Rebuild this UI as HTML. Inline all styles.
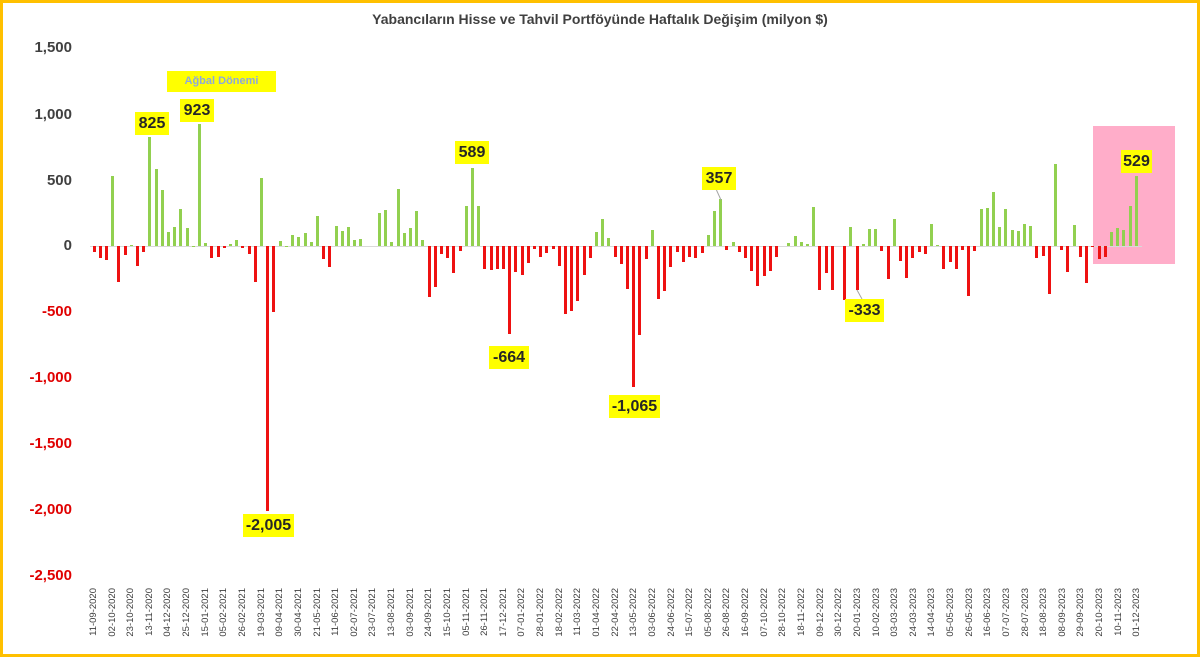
<!DOCTYPE html>
<html><head><meta charset="utf-8"><style>
body{margin:0;width:1200px;height:657px;overflow:hidden;background:#fff;font-family:"Liberation Sans",sans-serif}
#f{position:absolute;left:0;top:0;width:1194px;height:651px;border:3px solid #FFC000}
.t{position:absolute;top:11px;left:0;width:1200px;text-align:center;font-weight:bold;font-size:14px;color:#404040}
.yl{position:absolute;left:0;width:72px;text-align:right;font-weight:bold;font-size:15px;color:#404040}
.yl.r{color:#e00000}
#bars{position:absolute;left:91px;top:0;height:657px;display:flex}
#bars>i{display:block;position:relative;width:6.21px;height:657px;flex:none}
#bars>i>b{position:absolute;left:1.6px;width:3px;height:calc(var(--v)*0.132px)}
b.p{bottom:411px;background:#92D050}
b.n{top:246px;background:#EE1111}
.z{position:absolute;left:90px;top:246px;width:1052px;height:1px;background:#d9d9d9}
.pink{position:absolute;left:1093px;top:126px;width:82px;height:138px;background:#FFADC9}
.a{position:absolute;background:#FFFF00;font-weight:bold;font-size:16px;color:#262626;text-align:center;line-height:23px;height:23px}
.xl{position:absolute;top:588px;font-size:9.5px;color:#404040;writing-mode:vertical-rl;transform:rotate(180deg);width:12px;text-align:left}
</style></head><body>
<div id="f"></div>
<div class="pink"></div>
<div class="t">Yabancıların Hisse ve Tahvil Portföyünde Haftalık Değişim (milyon $)</div>
<div class="yl" style="top:39px">1,500</div>
<div class="yl" style="top:106px">1,000</div>
<div class="yl" style="top:172px">500</div>
<div class="yl" style="top:237px">0</div>
<div class="yl r" style="top:303px">-500</div>
<div class="yl r" style="top:369px">-1,000</div>
<div class="yl r" style="top:435px">-1,500</div>
<div class="yl r" style="top:501px">-2,000</div>
<div class="yl r" style="top:567px">-2,500</div>
<div class="z"></div>
<div id="bars">
<i><b class="n" style="--v:43"></b></i><i><b class="n" style="--v:93"></b></i><i><b class="n" style="--v:106"></b></i><i><b class="p" style="--v:530"></b></i><i><b class="n" style="--v:270"></b></i><i><b class="n" style="--v:68"></b></i><i><b class="p" style="--v:5"></b></i><i><b class="n" style="--v:150"></b></i><i><b class="n" style="--v:43"></b></i><i><b class="p" style="--v:825"></b></i>
<i><b class="p" style="--v:585"></b></i><i><b class="p" style="--v:425"></b></i><i><b class="p" style="--v:104"></b></i><i><b class="p" style="--v:141"></b></i><i><b class="p" style="--v:280"></b></i><i><b class="p" style="--v:134"></b></i><i><b class="p" style="--v:3"></b></i><i><b class="p" style="--v:923"></b></i><i><b class="p" style="--v:20"></b></i><i><b class="n" style="--v:93"></b></i>
<i><b class="n" style="--v:80"></b></i><i><b class="n" style="--v:18"></b></i><i><b class="p" style="--v:15"></b></i><i><b class="p" style="--v:43"></b></i><i><b class="n" style="--v:13"></b></i><i><b class="n" style="--v:63"></b></i><i><b class="n" style="--v:270"></b></i><i><b class="p" style="--v:515"></b></i><i><b class="n" style="--v:2005"></b></i><i><b class="n" style="--v:497"></b></i>
<i><b class="p" style="--v:38"></b></i><i><b class="p" style="--v:3"></b></i><i><b class="p" style="--v:81"></b></i><i><b class="p" style="--v:68"></b></i><i><b class="p" style="--v:96"></b></i><i><b class="p" style="--v:30"></b></i><i><b class="p" style="--v:230"></b></i><i><b class="n" style="--v:98"></b></i><i><b class="n" style="--v:156"></b></i><i><b class="p" style="--v:151"></b></i>
<i><b class="p" style="--v:114"></b></i><i><b class="p" style="--v:144"></b></i><i><b class="p" style="--v:45"></b></i><i><b class="p" style="--v:56"></b></i><i><b class="p" style="--v:0"></b></i><i><b class="p" style="--v:0"></b></i><i><b class="p" style="--v:253"></b></i><i><b class="p" style="--v:270"></b></i><i><b class="p" style="--v:28"></b></i><i><b class="p" style="--v:429"></b></i>
<i><b class="p" style="--v:98"></b></i><i><b class="p" style="--v:134"></b></i><i><b class="p" style="--v:265"></b></i><i><b class="p" style="--v:45"></b></i><i><b class="n" style="--v:384"></b></i><i><b class="n" style="--v:310"></b></i><i><b class="n" style="--v:63"></b></i><i><b class="n" style="--v:88"></b></i><i><b class="n" style="--v:207"></b></i><i><b class="n" style="--v:35"></b></i>
<i><b class="p" style="--v:303"></b></i><i><b class="p" style="--v:589"></b></i><i><b class="p" style="--v:303"></b></i><i><b class="n" style="--v:171"></b></i><i><b class="n" style="--v:180"></b></i><i><b class="n" style="--v:172"></b></i><i><b class="n" style="--v:174"></b></i><i><b class="n" style="--v:664"></b></i><i><b class="n" style="--v:194"></b></i><i><b class="n" style="--v:220"></b></i>
<i><b class="n" style="--v:131"></b></i><i><b class="n" style="--v:20"></b></i><i><b class="n" style="--v:81"></b></i><i><b class="n" style="--v:50"></b></i><i><b class="n" style="--v:25"></b></i><i><b class="n" style="--v:149"></b></i><i><b class="n" style="--v:512"></b></i><i><b class="n" style="--v:492"></b></i><i><b class="n" style="--v:414"></b></i><i><b class="n" style="--v:220"></b></i>
<i><b class="n" style="--v:91"></b></i><i><b class="p" style="--v:106"></b></i><i><b class="p" style="--v:202"></b></i><i><b class="p" style="--v:58"></b></i><i><b class="n" style="--v:81"></b></i><i><b class="n" style="--v:136"></b></i><i><b class="n" style="--v:323"></b></i><i><b class="n" style="--v:1065"></b></i><i><b class="n" style="--v:674"></b></i><i><b class="n" style="--v:98"></b></i>
<i><b class="p" style="--v:121"></b></i><i><b class="n" style="--v:404"></b></i><i><b class="n" style="--v:341"></b></i><i><b class="n" style="--v:162"></b></i><i><b class="n" style="--v:43"></b></i><i><b class="n" style="--v:121"></b></i><i><b class="n" style="--v:86"></b></i><i><b class="n" style="--v:88"></b></i><i><b class="n" style="--v:53"></b></i><i><b class="p" style="--v:86"></b></i>
<i><b class="p" style="--v:265"></b></i><i><b class="p" style="--v:357"></b></i><i><b class="n" style="--v:30"></b></i><i><b class="p" style="--v:28"></b></i><i><b class="n" style="--v:45"></b></i><i><b class="n" style="--v:88"></b></i><i><b class="n" style="--v:187"></b></i><i><b class="n" style="--v:300"></b></i><i><b class="n" style="--v:230"></b></i><i><b class="n" style="--v:187"></b></i>
<i><b class="n" style="--v:81"></b></i><i><b class="p" style="--v:0"></b></i><i><b class="p" style="--v:20"></b></i><i><b class="p" style="--v:78"></b></i><i><b class="p" style="--v:30"></b></i><i><b class="p" style="--v:18"></b></i><i><b class="p" style="--v:295"></b></i><i><b class="n" style="--v:331"></b></i><i><b class="n" style="--v:202"></b></i><i><b class="n" style="--v:331"></b></i>
<i><b class="p" style="--v:0"></b></i><i><b class="n" style="--v:409"></b></i><i><b class="p" style="--v:141"></b></i><i><b class="n" style="--v:333"></b></i><i><b class="p" style="--v:13"></b></i><i><b class="p" style="--v:126"></b></i><i><b class="p" style="--v:129"></b></i><i><b class="n" style="--v:35"></b></i><i><b class="n" style="--v:250"></b></i><i><b class="p" style="--v:202"></b></i>
<i><b class="n" style="--v:114"></b></i><i><b class="n" style="--v:240"></b></i><i><b class="n" style="--v:93"></b></i><i><b class="n" style="--v:48"></b></i><i><b class="n" style="--v:63"></b></i><i><b class="p" style="--v:167"></b></i><i><b class="p" style="--v:8"></b></i><i><b class="n" style="--v:171"></b></i><i><b class="n" style="--v:119"></b></i><i><b class="n" style="--v:177"></b></i>
<i><b class="n" style="--v:30"></b></i><i><b class="n" style="--v:376"></b></i><i><b class="n" style="--v:38"></b></i><i><b class="p" style="--v:282"></b></i><i><b class="p" style="--v:290"></b></i><i><b class="p" style="--v:406"></b></i><i><b class="p" style="--v:144"></b></i><i><b class="p" style="--v:282"></b></i><i><b class="p" style="--v:121"></b></i><i><b class="p" style="--v:116"></b></i>
<i><b class="p" style="--v:164"></b></i><i><b class="p" style="--v:151"></b></i><i><b class="n" style="--v:93"></b></i><i><b class="n" style="--v:78"></b></i><i><b class="n" style="--v:363"></b></i><i><b class="p" style="--v:621"></b></i><i><b class="n" style="--v:30"></b></i><i><b class="n" style="--v:197"></b></i><i><b class="p" style="--v:159"></b></i><i><b class="n" style="--v:86"></b></i>
<i><b class="n" style="--v:278"></b></i><i><b class="n" style="--v:10"></b></i><i><b class="n" style="--v:101"></b></i><i><b class="n" style="--v:83"></b></i><i><b class="p" style="--v:106"></b></i><i><b class="p" style="--v:134"></b></i><i><b class="p" style="--v:119"></b></i><i><b class="p" style="--v:303"></b></i><i><b class="p" style="--v:529"></b></i>
</div>
<svg style="position:absolute;left:0;top:0" width="1200" height="657"><g stroke="#a6a6a6" stroke-width="1" fill="none"><line x1="716" y1="189" x2="721" y2="200"/><line x1="857" y1="290" x2="862" y2="299"/></g></svg>
<div class="a" style="left:167px;top:71px;width:109px;height:21px;line-height:21px;font-size:11px;color:#8EA9DB">Ağbal Dönemi</div>
<div class="a" style="left:135px;top:112px;width:34px">825</div>
<div class="a" style="left:180px;top:99px;width:34px">923</div>
<div class="a" style="left:455px;top:141px;width:34px">589</div>
<div class="a" style="left:702px;top:167px;width:34px">357</div>
<div class="a" style="left:489px;top:346px;width:40px">-664</div>
<div class="a" style="left:609px;top:395px;width:51px">-1,065</div>
<div class="a" style="left:243px;top:514px;width:51px">-2,005</div>
<div class="a" style="left:845px;top:299px;width:39px">-333</div>
<div class="a" style="left:1121px;top:150px;width:31px">529</div>
<div id="xl">
<div class="xl" style="left:88px">11-09-2020</div><div class="xl" style="left:107px">02-10-2020</div><div class="xl" style="left:125px">23-10-2020</div><div class="xl" style="left:144px">13-11-2020</div><div class="xl" style="left:162px">04-12-2020</div><div class="xl" style="left:181px">25-12-2020</div><div class="xl" style="left:200px">15-01-2021</div><div class="xl" style="left:218px">05-02-2021</div><div class="xl" style="left:237px">26-02-2021</div><div class="xl" style="left:256px">19-03-2021</div>
<div class="xl" style="left:274px">09-04-2021</div><div class="xl" style="left:293px">30-04-2021</div><div class="xl" style="left:312px">21-05-2021</div><div class="xl" style="left:330px">11-06-2021</div><div class="xl" style="left:349px">02-07-2021</div><div class="xl" style="left:367px">23-07-2021</div><div class="xl" style="left:386px">13-08-2021</div><div class="xl" style="left:405px">03-09-2021</div><div class="xl" style="left:423px">24-09-2021</div><div class="xl" style="left:442px">15-10-2021</div>
<div class="xl" style="left:461px">05-11-2021</div><div class="xl" style="left:479px">26-11-2021</div><div class="xl" style="left:498px">17-12-2021</div><div class="xl" style="left:516px">07-01-2022</div><div class="xl" style="left:535px">28-01-2022</div><div class="xl" style="left:554px">18-02-2022</div><div class="xl" style="left:572px">11-03-2022</div><div class="xl" style="left:591px">01-04-2022</div><div class="xl" style="left:610px">22-04-2022</div><div class="xl" style="left:628px">13-05-2022</div>
<div class="xl" style="left:647px">03-06-2022</div><div class="xl" style="left:666px">24-06-2022</div><div class="xl" style="left:684px">15-07-2022</div><div class="xl" style="left:703px">05-08-2022</div><div class="xl" style="left:721px">26-08-2022</div><div class="xl" style="left:740px">16-09-2022</div><div class="xl" style="left:759px">07-10-2022</div><div class="xl" style="left:777px">28-10-2022</div><div class="xl" style="left:796px">18-11-2022</div><div class="xl" style="left:815px">09-12-2022</div>
<div class="xl" style="left:833px">30-12-2022</div><div class="xl" style="left:852px">20-01-2023</div><div class="xl" style="left:871px">10-02-2023</div><div class="xl" style="left:889px">03-03-2023</div><div class="xl" style="left:908px">24-03-2023</div><div class="xl" style="left:926px">14-04-2023</div><div class="xl" style="left:945px">05-05-2023</div><div class="xl" style="left:964px">26-05-2023</div><div class="xl" style="left:982px">16-06-2023</div><div class="xl" style="left:1001px">07-07-2023</div>
<div class="xl" style="left:1020px">28-07-2023</div><div class="xl" style="left:1038px">18-08-2023</div><div class="xl" style="left:1057px">08-09-2023</div><div class="xl" style="left:1075px">29-09-2023</div><div class="xl" style="left:1094px">20-10-2023</div><div class="xl" style="left:1113px">10-11-2023</div><div class="xl" style="left:1131px">01-12-2023</div>
</div>
</body></html>
